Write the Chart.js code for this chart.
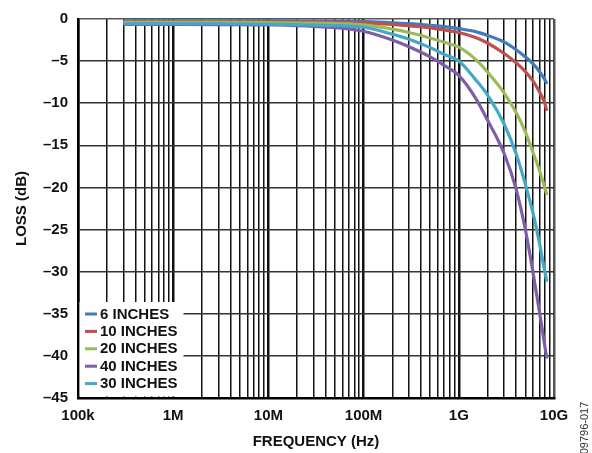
<!DOCTYPE html>
<html>
<head>
<meta charset="utf-8">
<script src="https://cdn.jsdelivr.net/npm/chart.js@4.4.1/dist/chart.umd.min.js"></script>
<style>
  html, body { margin: 0; padding: 0; background: #fff; }
  #wrap { width: 592px; height: 453px; position: relative; }
</style>
</head>
<body>
<div id="wrap"><canvas id="loss"></canvas></div>
<script>
// frequency points (Hz) and insertion loss (dB)
const frequencies = [3e5, 1e6, 3e6, 1e7, 3e7, 1e8, 2e8, 3e8, 5e8, 7e8, 1e9, 1.5e9, 2e9, 3e9, 4e9, 5e9, 6e9, 7e9, 8e9, 8.4e9]
const loss6in  = [-0.22, -0.22, -0.22, -0.23, -0.25, -0.3, -0.45, -0.55, -0.75, -0.9, -1.15, -1.5, -1.95, -2.75, -3.65, -4.5, -5.3, -6.2, -7.2, -7.7]
const loss10in = [-0.3, -0.3, -0.3, -0.32, -0.35, -0.45, -0.65, -0.8, -1.05, -1.3, -1.6, -2.2, -2.85, -4.1, -5.2, -6.25, -7.35, -8.6, -10.0, -10.9]
const loss20in = [-0.4, -0.4, -0.4, -0.42, -0.5, -0.7, -1.2, -1.6, -2.25, -2.75, -3.35, -4.8, -6.3, -8.8, -11.1, -13.4, -15.8, -17.9, -20.0, -20.9]
const loss40in = [-0.65, -0.65, -0.66, -0.7, -0.88, -1.45, -2.5, -3.3, -4.5, -5.5, -6.7, -9.4, -12.0, -16.0, -20.2, -25.0, -30.0, -34.6, -38.8, -40.3]
const loss30in = [-0.55, -0.55, -0.56, -0.6, -0.72, -0.98, -1.8, -2.4, -3.4, -4.2, -5.0, -7.2, -9.0, -12.5, -16.0, -19.6, -23.0, -26.5, -30.0, -31.2]

const seriesLabels = ['6 INCHES', '10 INCHES', '20 INCHES', '40 INCHES', '30 INCHES']
const seriesColors = ['#3f7bc1', '#c0504d', '#9bbb59', '#7e5ea8', '#44a9c7']

const xTickValues = [1e5, 1e6, 1e7, 1e8, 1e9, 1e10]
const xTickLabels = ['100k', '1M', '10M', '100M', '1G', '10G']
const yTickValues = [0, -5, -10, -15, -20, -25, -30, -35, -40, -45]

const FONT = "'Liberation Sans', Arial, sans-serif"

// log grid: every 1..9 x decade
let xGrid = []
for (let i = 0; i < xTickValues.length - 1; i++) {
    for (let m = 1; m < 10; m++) xGrid.push(xTickValues[i] * m)
}
xGrid.push(xTickValues[xTickValues.length - 1])

function isDecade(v) {
    return xTickValues.some(d => Math.abs(v - d) < d * 1e-6)
}

const allLoss = [loss6in, loss10in, loss20in, loss40in, loss30in]
const datasets = allLoss.map((arr, i) => ({
    label: seriesLabels[i],
    data: frequencies.map((f, j) => ({x: f, y: arr[j]})),
    borderColor: seriesColors[i],
    backgroundColor: seriesColors[i],
    borderWidth: 3.2,
    pointRadius: 0,
    cubicInterpolationMode: 'monotone',
    order: i === 4 ? 0 : 5 - i
}))

const insideLegend = {
    id: 'insideLegend',
    afterDraw(chart) {
        const ctx = chart.ctx
        const area = chart.chartArea
        ctx.save()
        ctx.fillStyle = '#fff'
        ctx.fillRect(area.left + 1.5, 302, 104, area.bottom - 302 - 1.5)
        ctx.font = 'bold 15px ' + FONT
        ctx.textBaseline = 'middle'
        ctx.textAlign = 'left'
        chart.data.datasets.forEach((ds, i) => {
            const y = 314 + i * 17.4
            ctx.strokeStyle = ds.borderColor
            ctx.lineWidth = 3
            ctx.beginPath()
            ctx.moveTo(85, y)
            ctx.lineTo(97, y)
            ctx.stroke()
            ctx.fillStyle = '#111'
            ctx.fillText(ds.label, 100, y + 0.5)
        })
        // figure number on the right edge
        ctx.translate(585, 428)
        ctx.rotate(-Math.PI / 2)
        ctx.font = '11px ' + FONT
        ctx.fillStyle = '#333'
        ctx.textAlign = 'center'
        ctx.fillText('09796-017', 0, 0)
        ctx.restore()
    }
}

new Chart(document.getElementById('loss'), {
    type: 'line',
    data: {datasets: datasets},
    plugins: [insideLegend],
    options: {
        responsive: true,
        maintainAspectRatio: false,
        animation: false,
        layout: {padding: {top: 16, right: 38, left: 0, bottom: 0}},
        plugins: {legend: {display: false}, tooltip: {enabled: false}},
        scales: {
            x: {
                type: 'logarithmic',
                min: 1e5,
                max: 1e10,
                afterBuildTicks: scale => { scale.ticks = xGrid.map(v => ({value: v})) },
                afterFit: scale => { scale.height = 55 },
                ticks: {
                    autoSkip: false,
                    maxRotation: 0,
                    padding: 9,
                    color: '#111',
                    font: {family: FONT, size: 15, weight: 'bold'},
                    callback: v => {
                        const k = xTickValues.findIndex(d => Math.abs(v - d) < d * 1e-6)
                        return k >= 0 ? xTickLabels[k] : ''
                    }
                },
                grid: {
                    drawTicks: false,
                    color: c => c.tick && c.tick.value >= 1e10 ? '#555' : '#111',
                    lineWidth: c => c.tick && isDecade(c.tick.value) ? 2.5 : 1.5
                },
                border: {color: '#000', width: 2.5},
                title: {
                    display: true,
                    text: 'FREQUENCY (Hz)',
                    color: '#111',
                    font: {family: FONT, size: 15, weight: 'bold'},
                    padding: {top: 0, bottom: 2}
                }
            },
            y: {
                min: -45,
                max: 0,
                afterBuildTicks: scale => { scale.ticks = yTickValues.map(v => ({value: v})) },
                afterFit: scale => { scale.width = 78 },
                ticks: {
                    padding: 10,
                    color: '#111',
                    font: {family: FONT, size: 15, weight: 'bold'},
                    callback: v => v === 0 ? '0' : '\u2013' + Math.abs(v)
                },
                grid: {
                    drawTicks: false,
                    color: c => c.tick && c.tick.value === 0 ? '#555' : '#333',
                    lineWidth: 1.5
                },
                border: {color: '#000', width: 2.5},
                title: {
                    display: true,
                    text: 'LOSS (dB)',
                    color: '#111',
                    font: {family: FONT, size: 15, weight: 'bold'},
                    padding: {top: 13, bottom: 0}
                }
            }
        }
    }
})
</script>
</body>
</html>
